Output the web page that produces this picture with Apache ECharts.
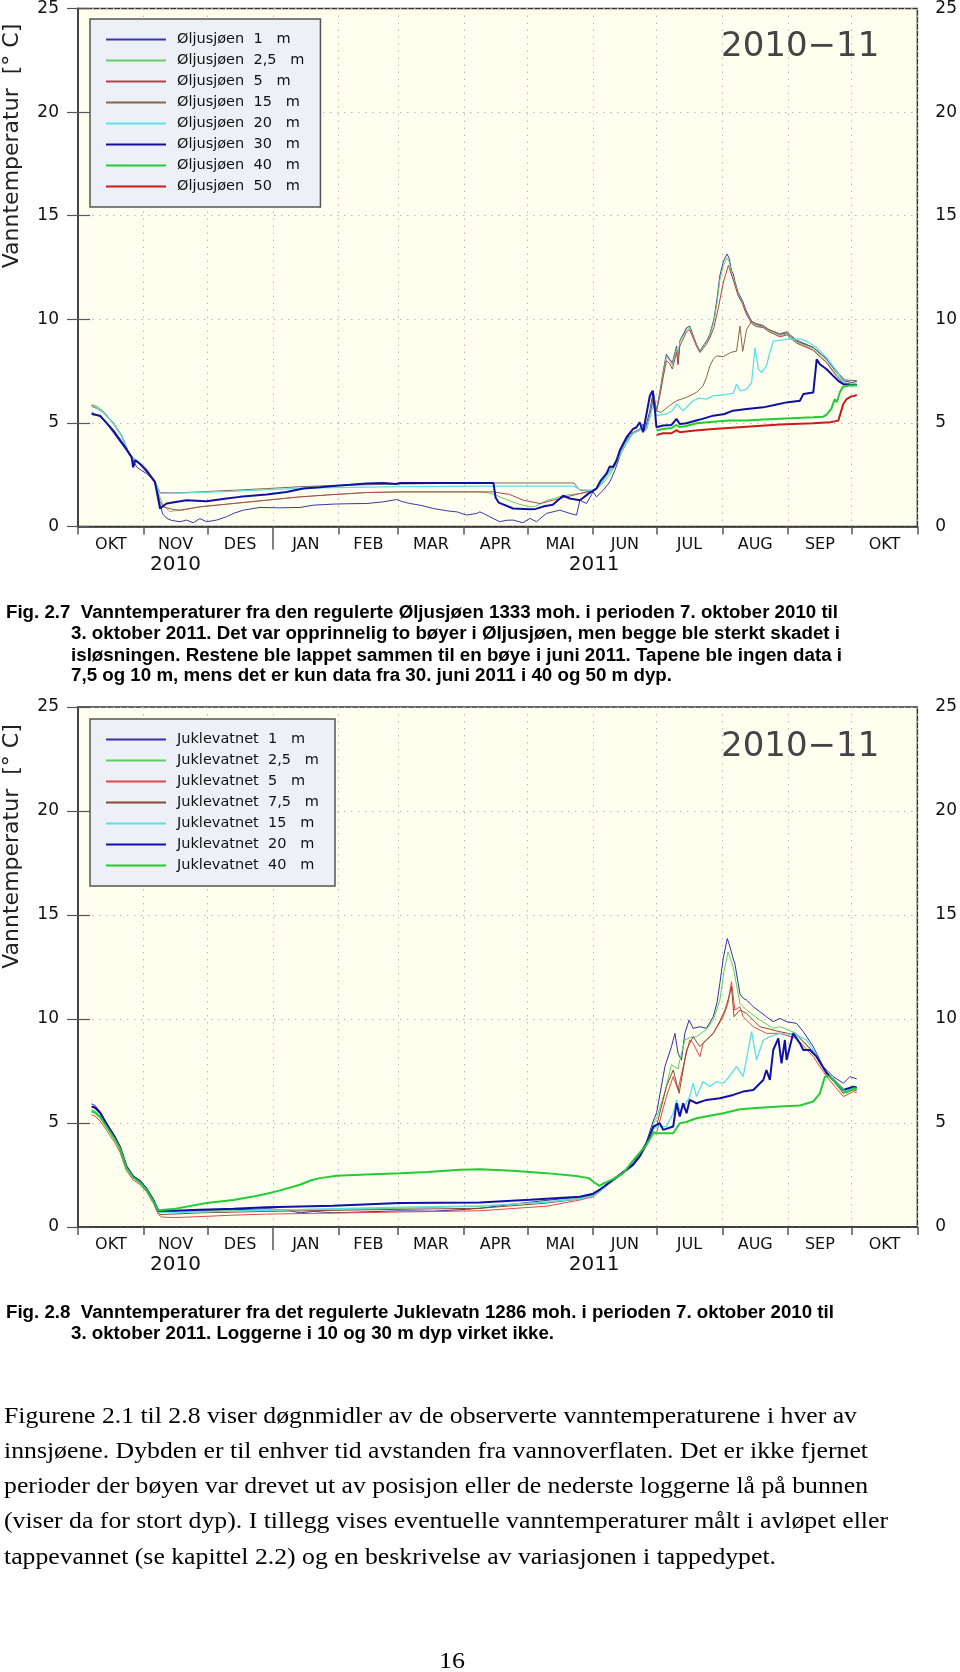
<!DOCTYPE html>
<html><head><meta charset="utf-8">
<script src="https://cdn.jsdelivr.net/npm/echarts@6/dist/echarts.min.js"></script>
<style>
html,body{margin:0;padding:0;background:#fff;}
#page{position:relative;width:960px;height:1672px;overflow:hidden;background:#fff;}
#chart{position:absolute;left:0;top:0;width:960px;height:1672px;}
.ln{position:absolute;white-space:pre;transform-origin:0 50%;color:#000;}
.cap{font-family:"Liberation Sans",Arial,sans-serif;font-weight:bold;font-size:18px;line-height:20px;height:20px;}
.body{font-family:"Liberation Serif","Times New Roman",serif;font-size:24px;line-height:30px;height:30px;}
</style></head>
<body><div id="page"><div id="chart"></div></div>
<script>
// x values are days since 1 Oct 2010
const monthTickDays = [0,31,61,92,123,151,182,212,243,273,304,335,365,396];
const monthLabelDays = [15.5,46,76.5,107.5,137,166.5,197,227.5,258,288.5,319.5,350,380.5];
const monthNames = ['OKT','NOV','DES','JAN','FEB','MAR','APR','MAI','JUN','JUL','AUG','SEP','OKT'];
const yearTickDays = [92];
const yearLabelDays = [46,243.5];
const yearNames = ['2010','2011'];

// Øljusjøen
const olj1 = [[6.4,5.51],[10.4,5.3],[14,4.9],[18.2,4.31],[22.9,3.67],[26,3.2],[27.7,2.87],[30,2.7],[32.4,2.55],[35,2.3],[37.1,2.0],[38.7,1.04],[40,0.6],[41.8,0.4],[44,0.3],[48.1,0.23],[51.2,0.31],[54.4,0.18],[57.5,0.38],[60.7,0.23],[65.4,0.31],[70.1,0.47],[73.3,0.63],[78,0.79],[85.9,0.92],[95,0.9],[104.7,0.92],[111,1.03],[120.4,1.08],[128,1.1],[136.2,1.11],[144,1.19],[150.3,1.3],[153,1.2],[156.6,1.11],[161.3,1.03],[167.6,0.87],[173.9,0.76],[179,0.7],[183.3,0.55],[188.1,0.63],[189.6,0.71],[194.3,0.47],[199,0.23],[202,0.3],[205.3,0.31],[209.9,0.18],[213.2,0.39],[216.3,0.23],[221,0.63],[227.3,0.79],[232.1,0.63],[235.2,0.55],[236.8,1.27],[239.9,1.11],[243,1.67],[244.6,1.43],[247.8,1.75],[250.9,2.15],[253.3,2.71],[257.2,3.83],[260.3,4.47],[265,4.63],[266.6,4.95],[267.4,4.63],[269.8,5.59],[271.4,6.55],[272.9,5.6],[274.5,6.5],[276.1,7.51],[277.6,8.31],[279.2,8.07],[280.4,7.9],[282.4,8.71],[283.1,7.91],[283.9,8.95],[287.1,9.59],[288.6,9.67],[291.8,8.79],[293.4,8.47],[296.5,8.95],[298.1,9.27],[300,10.0],[301.5,11.0],[302.8,12.1],[304.5,12.8],[306.2,13.15],[307.2,12.95],[308.3,12.35],[309.1,12.2],[310,11.8],[311.4,11.3],[313.5,10.9],[315.3,10.4],[317.8,9.9],[320,9.75],[323.3,9.67],[326,9.5],[331.1,9.27],[334.5,9.35],[336,9.2],[339,8.95],[346.9,8.63],[353.2,8.07],[357.9,7.43],[361.5,7.03],[365,6.95],[367.4,7.0]];
const olj25 = [[6.4,5.88],[8.8,5.8],[11.9,5.55],[16.7,5.0],[20.6,4.4],[23.7,3.6],[25.3,3.35],[29.2,3.05],[33.2,2.55],[36.3,2.15],[38.7,1.4],[40.2,1.0],[43.4,0.72],[44.9,0.75],[49.6,0.79],[57.5,0.95],[73.3,1.11],[89,1.27],[104.7,1.43],[120.4,1.54],[136.2,1.64],[151.9,1.67],[189.6,1.67],[194,1.62],[197.4,1.5],[202,1.3],[208,1.08],[213.2,0.95],[216,0.98],[221,1.25],[228.9,1.49],[236.8,1.59],[241.5,1.65],[244.6,1.85],[247.8,2.1],[250.9,2.5],[253.3,2.9],[256,3.5],[258.8,4.0],[261.9,4.5],[265,4.7],[266.6,4.9],[268.2,4.75],[270,5.5],[271.4,6.3],[272.9,5.6],[274.5,6.4],[276.1,7.4],[277.6,8.2],[279.2,8.0],[280.4,7.8],[282.4,8.6],[283.1,7.95],[283.9,8.9],[287.1,9.5],[288.6,9.6],[291.8,8.75],[293.4,8.45],[296.5,8.9],[298.1,9.2],[300,9.9],[301.5,10.8],[302.8,11.9],[304.5,12.6],[306.2,12.95],[307.2,12.8],[308.3,12.2],[309.1,12.05],[310,11.7],[311.4,11.2],[313.5,10.8],[315.3,10.3],[317.8,9.85],[320,9.7],[323.3,9.6],[326,9.45],[331.1,9.2],[334.5,9.3],[336,9.15],[339,8.9],[346.9,8.55],[353.2,7.95],[357.9,7.3],[361.5,6.95],[365,6.85],[367.4,6.9]];
const olj5 = [[6.4,5.8],[8.8,5.7],[11.9,5.5],[16.7,4.95],[20.6,4.35],[23.7,3.55],[25.3,3.3],[29.2,3.0],[33.2,2.5],[36.3,2.1],[38.7,1.2],[40.2,0.95],[42,0.9],[44.9,0.82],[48.1,0.79],[57.5,0.95],[73.3,1.11],[89,1.27],[104.7,1.43],[120.4,1.54],[136.2,1.64],[151.9,1.67],[189.6,1.67],[196,1.67],[199,1.62],[203.5,1.55],[210,1.27],[218,1.11],[224.2,1.27],[230.5,1.43],[236.8,1.59],[243,1.75],[246,1.95],[249,2.4],[252,2.8],[255.6,3.5],[258.8,4.1],[261.9,4.5],[265,4.65],[266.6,4.85],[268.2,4.7],[270,5.45],[271.4,6.2],[272.9,5.55],[274.5,6.3],[276.1,7.2],[277.6,8.0],[279.2,7.85],[280.4,7.6],[282.4,8.4],[283.1,7.8],[283.9,8.7],[287.1,9.4],[288.6,9.5],[291.8,8.7],[293.4,8.4],[296.5,8.8],[298.1,9.1],[300,9.6],[302,10.5],[304.5,11.8],[306.8,12.6],[307.8,12.3],[309.1,11.9],[310,11.6],[311.4,11.15],[313.5,10.75],[315.3,10.25],[317.8,9.8],[320,9.65],[323.3,9.6],[326,9.4],[331.1,9.15],[334.5,9.25],[336,9.1],[339,8.85],[346.9,8.5],[353.2,7.9],[357.9,7.25],[361.5,6.9],[365,6.8],[367.4,6.85]];
const olj15 = [[6.4,5.85],[8.8,5.78],[11.9,5.55],[16.7,5.0],[20.6,4.4],[23.7,3.62],[25.3,3.38],[29.2,3.08],[33.2,2.58],[36.3,2.18],[38.7,1.63],[45,1.62],[57.5,1.67],[73.3,1.75],[89,1.83],[104.7,1.92],[120.4,1.98],[151.9,2.05],[189.6,2.1],[234,2.1],[236.8,1.75],[243,1.7],[246,1.95],[249,2.45],[252,2.85],[255.6,3.5],[258.8,4.15],[261.9,4.55],[265,4.7],[266.6,4.9],[268.2,4.7],[270,5.4],[271.4,6.2],[272.9,5.59],[275,5.5],[279,5.83],[282.4,6.07],[287,6.23],[291.8,6.47],[294.9,6.79],[296.5,7.19],[298.1,7.75],[299.7,8.07],[301.2,8.23],[304.4,8.2],[308,8.4],[310.7,8.47],[312.3,9.67],[313.6,8.45],[315.4,9.5],[317.8,9.9],[320,9.8],[323.3,9.7],[326,9.5],[331.1,9.3],[334.5,9.4],[336,9.25],[339,9.0],[346.9,8.65],[353.2,8.1],[357.9,7.5],[361.5,7.08],[365,7.05],[367.4,7.05]];
const olj20 = [[6.4,5.82],[8.8,5.75],[11.9,5.52],[16.7,4.98],[20.6,4.38],[23.7,3.6],[25.3,3.36],[29.2,3.06],[33.2,2.56],[36.3,2.16],[38.7,1.6],[45,1.6],[57.5,1.65],[73.3,1.7],[89,1.78],[104.7,1.84],[120.4,1.88],[151.9,1.92],[189.6,1.95],[234,1.95],[236.8,1.78],[243,1.75],[246,1.95],[249,2.4],[252,2.8],[255.6,3.45],[258.8,4.1],[261.9,4.5],[265,4.65],[266.6,4.85],[268.2,4.7],[270,5.3],[271.4,5.9],[272.9,5.35],[277.6,5.43],[280.5,5.6],[282.4,5.91],[285.5,5.59],[290.2,6.07],[293,6.2],[296.5,6.15],[299.7,6.31],[305,6.35],[309.1,6.43],[310.7,6.87],[312.3,6.55],[315.4,6.63],[317.8,6.95],[319.4,8.63],[321,7.6],[322.5,7.43],[324.8,7.75],[326.4,8.4],[328,8.95],[334.3,9.03],[340.6,9.06],[343.7,8.95],[348.5,8.63],[353.2,8.15],[357.9,7.51],[361.1,6.95],[364,6.8],[367.4,6.79]];
const olj30 = [[6.4,5.43],[10.4,5.35],[16.7,4.63],[22.2,3.83],[25.3,3.35],[26,2.85],[27,3.2],[29.2,3.03],[32.4,2.7],[36.3,2.15],[38.7,0.87],[41.8,1.11],[51.2,1.27],[60.7,1.22],[70.1,1.35],[76.4,1.43],[89,1.54],[98.4,1.67],[106.3,1.83],[114.1,1.9],[120.4,1.96],[128.3,2.02],[136,2.08],[144,2.1],[150,2.05],[151.9,2.1],[167.6,2.1],[189.6,2.1],[196,2.1],[197,1.4],[198.5,1.15],[205.3,0.87],[213.2,0.83],[216,0.85],[220,0.98],[224,1.05],[228.9,1.49],[232,1.35],[236.8,1.27],[241,1.6],[244.6,1.83],[246.5,2.2],[249.3,2.55],[250.9,2.9],[252.5,2.87],[254.1,3.2],[255.6,3.67],[258.8,4.31],[261.9,4.71],[263.5,4.79],[265,5.03],[266.6,4.55],[268.2,5.43],[269.8,6.31],[271.1,6.55],[272.2,5.59],[272.9,4.79],[276,4.87],[280,4.9],[282.4,5.19],[283.9,4.95],[287,4.98],[293.4,5.16],[299.7,5.35],[305,5.43],[309,5.59],[315.4,5.67],[323.3,5.75],[328,5.85],[334.3,5.99],[340.6,6.07],[342.2,6.39],[346.9,6.47],[348.5,8.07],[350,7.83],[353.2,7.59],[356.3,7.27],[358.7,7.03],[361.1,6.87],[364,6.85],[367.4,6.83]];
const olj40 = [[273,4.63],[276,4.71],[280,4.75],[282.4,4.9],[283.9,4.8],[287,4.85],[291.8,4.98],[299.7,5.05],[307,5.11],[315.4,5.11],[323.3,5.16],[331.1,5.2],[339,5.24],[346.9,5.27],[351.6,5.3],[353.2,5.4],[355.5,5.7],[357,6.15],[358,6.0],[359.5,6.5],[361,6.75],[364,6.8],[367.4,6.82]];
const olj50 = [[273,4.42],[276,4.5],[280,4.5],[282.4,4.65],[283.9,4.55],[290,4.62],[299.7,4.71],[315.4,4.82],[331.1,4.92],[346.9,4.98],[354.8,5.03],[358.7,5.11],[359.5,5.2],[361,5.9],[362.6,6.15],[364.8,6.28],[366,6.3],[367.4,6.35]];

// Juklevatnet
const jk1 = [[6.4,5.92],[8,5.85],[10.4,5.55],[13.5,4.99],[17.4,4.35],[19.8,3.87],[22.9,2.91],[26.1,2.43],[29.2,2.25],[32.4,1.85],[35.5,1.35],[37.9,0.8],[38.7,0.7],[44.9,0.78],[57.5,0.8],[73.3,0.83],[89,0.88],[98.4,0.82],[104.7,0.68],[111,0.75],[120.4,0.68],[136.2,0.73],[151.9,0.78],[167.6,0.76],[183.3,0.85],[189.6,0.9],[205.3,1.1],[221,1.28],[236.8,1.45],[243,1.55],[246.2,1.8],[250.9,2.2],[255.6,2.55],[261.9,3.05],[265,3.55],[268.2,4.1],[271.4,5.1],[273,5.5],[276.9,7.71],[280,8.67],[281.6,9.31],[283.1,8.35],[284.7,8.03],[286.3,9.31],[288.3,9.95],[290.2,9.55],[293.4,9.63],[296.5,9.55],[299.7,10.11],[301.5,10.8],[302.8,11.71],[304.4,12.9],[306.3,13.87],[307.5,13.5],[309.1,12.9],[309.9,12.67],[312.3,11.2],[313.8,11.0],[315.4,10.91],[318.6,10.59],[321.7,10.35],[324.8,10.11],[328,9.87],[331.1,10.03],[334.3,9.87],[339,9.79],[342.2,9.39],[346.9,8.67],[351.6,7.71],[356.3,7.23],[361.1,6.91],[364.2,7.23],[367.4,7.12]];
const jk25 = [[6.4,5.64],[8,5.58],[10.4,5.35],[13.5,4.85],[17.4,4.25],[19.8,3.8],[22.9,2.85],[26.1,2.38],[29.2,2.15],[32.4,1.78],[35.5,1.25],[37.9,0.75],[38.7,0.68],[44.9,0.72],[57.5,0.75],[89,0.82],[120.4,0.86],[151.9,0.9],[189.6,1.0],[221,1.2],[236.8,1.4],[243,1.5],[246.2,1.75],[250.9,2.15],[255.6,2.5],[261.9,3.0],[265,3.45],[268.2,4.0],[271.4,4.95],[273,5.25],[276.9,6.5],[280,7.8],[283.1,7.6],[283.9,8.0],[286.3,9.0],[288.6,9.1],[291.8,9.15],[296.5,9.5],[299.7,9.95],[302.8,10.9],[304.8,12.3],[306.7,13.23],[307.8,12.9],[309.1,12.5],[312.3,10.75],[315.4,10.43],[321.7,9.95],[328,9.55],[331.1,9.63],[339,9.31],[346.9,8.35],[353.2,7.39],[361.1,6.43],[365.8,6.75],[367.4,6.7]];
const jk5 = [[6.4,5.39],[8,5.33],[10.4,5.1],[13.5,4.65],[17.4,4.05],[19.8,3.6],[22.9,2.7],[26.1,2.25],[29.2,2.05],[32.4,1.68],[35.5,1.15],[37.9,0.6],[39.5,0.48],[44.9,0.45],[57.5,0.5],[73.3,0.57],[89,0.62],[120.4,0.67],[151.9,0.72],[189.6,0.78],[221,1.0],[236.8,1.3],[243,1.45],[246.2,1.7],[250.9,2.1],[255.6,2.45],[261.9,2.95],[265,3.35],[268.2,3.9],[271.4,4.6],[272.9,4.51],[277.6,6.27],[280.8,7.23],[283.1,6.59],[285.5,7.71],[288.6,8.99],[290.2,8.83],[293.4,8.19],[294.9,8.83],[299.7,9.31],[304.4,10.11],[306.5,10.7],[308.3,11.79],[309.9,10.43],[312.3,10.59],[313.8,10.11],[318.6,9.63],[324.8,9.31],[331.1,9.31],[339,9.07],[346.9,8.19],[353.2,7.23],[361.1,6.27],[365.8,6.51],[367.4,6.45]];
const jk75 = [[6.4,5.76],[8,5.7],[10.4,5.45],[13.5,4.93],[17.4,4.3],[19.8,3.83],[22.9,2.88],[26.1,2.4],[29.2,2.18],[32.4,1.8],[35.5,1.28],[37.9,0.7],[38.7,0.6],[44.9,0.62],[57.5,0.68],[89,0.75],[120.4,0.8],[151.9,0.85],[189.6,0.9],[221,1.15],[236.8,1.35],[243,1.5],[246.2,1.75],[250.9,2.15],[255.6,2.5],[261.9,3.0],[265,3.4],[268.2,3.95],[271.4,4.75],[272.9,4.83],[277.6,6.75],[280.8,7.55],[283.6,6.43],[287.1,8.51],[290.2,9.15],[293.4,8.67],[296.5,9.0],[299.7,9.31],[302.8,9.9],[305.2,10.43],[307.5,11.2],[308.3,11.55],[309.5,10.11],[312.3,10.43],[315.4,10.27],[321.7,9.63],[331.1,9.39],[339,9.23],[346.9,8.43],[353.2,7.47],[361.1,6.43],[365.8,6.59],[367.4,6.55]];
const jk15 = [[6.4,5.6],[8,5.55],[10.4,5.3],[13.5,4.83],[17.4,4.22],[19.8,3.77],[22.9,2.83],[26.1,2.36],[29.2,2.13],[32.4,1.76],[35.5,1.22],[37.9,0.72],[38.7,0.65],[44.9,0.7],[57.5,0.73],[89,0.8],[120.4,0.88],[151.9,0.95],[189.6,1.02],[221,1.2],[236.8,1.35],[243,1.5],[246.2,1.72],[250.9,2.12],[255.6,2.48],[261.9,2.98],[265,3.38],[268.2,3.95],[271.4,4.7],[272.9,4.83],[277.6,4.83],[280.8,5.47],[282.4,6.11],[283.9,5.63],[286,5.8],[288.6,6.27],[290.2,6.91],[291.8,6.27],[294.9,6.99],[298.1,6.75],[301.2,6.99],[304.4,6.91],[307,7.2],[310.7,7.71],[313.8,7.23],[317.8,9.39],[320.1,8.03],[323.3,8.99],[326.4,9.15],[331.1,9.31],[339,9.23],[343.7,8.99],[346.9,8.51],[353.2,7.39],[361.1,6.51],[365.8,6.67],[367.4,6.6]];
const jk20 = [[6.4,5.8],[8,5.75],[10.4,5.5],[13.5,4.95],[17.4,4.32],[19.8,3.85],[22.9,2.9],[26.1,2.42],[29.2,2.2],[32.4,1.82],[35.5,1.3],[37.9,0.78],[38.7,0.75],[44.9,0.78],[57.5,0.83],[73.3,0.88],[89,0.95],[120.4,1.02],[151.9,1.15],[189.6,1.18],[213.2,1.31],[236.8,1.45],[243,1.6],[246.2,1.8],[250.9,2.15],[255.6,2.5],[261.9,3.0],[265,3.4],[268.2,4.0],[271.4,4.83],[274.5,4.99],[276.1,4.67],[280.8,4.83],[282.4,5.95],[283.9,5.31],[285.5,5.95],[287.1,5.47],[288.6,6.11],[291.8,5.95],[296.5,6.11],[302.8,6.19],[309.1,6.35],[313.8,6.51],[318.6,6.59],[323.3,7.07],[324.8,7.55],[326.4,7.07],[328,8.51],[330.4,9.07],[331.9,7.87],[333.5,8.99],[334.3,8.03],[337.4,9.31],[339,9.07],[340.6,8.83],[342.2,8.51],[345.3,8.51],[348.5,8.19],[353.2,7.39],[361.1,6.59],[365.8,6.75],[367.4,6.7]];
const jk40 = [[6.4,5.55],[8,5.5],[10.4,5.28],[13.5,4.82],[17.4,4.22],[19.8,3.78],[22.9,2.85],[26.1,2.38],[29.2,2.15],[32.4,1.78],[35.5,1.25],[37.9,0.8],[38.7,0.75],[44.9,0.86],[60.7,1.15],[73.3,1.3],[82.7,1.47],[89,1.6],[95,1.75],[104.7,2.03],[110,2.25],[114.1,2.35],[122,2.46],[136,2.52],[151.9,2.59],[165,2.65],[180.2,2.75],[189.6,2.78],[205,2.7],[221,2.59],[235,2.45],[241,2.35],[243.5,2.15],[246,1.98],[248,2.1],[252.5,2.3],[257.2,2.59],[263.5,3.39],[268.2,3.95],[271.4,4.51],[280.8,4.51],[283.9,4.99],[287,5.05],[291.8,5.23],[298,5.35],[304.4,5.47],[312.3,5.66],[320,5.72],[331.1,5.79],[340.6,5.84],[346.9,6.03],[350,6.43],[352.4,7.23],[354.8,7.23],[359.5,6.75],[362.6,6.46],[365.8,6.67],[367.4,6.65]];

const oljNames = ['Øljusjøen  1   m','Øljusjøen  2,5   m','Øljusjøen  5   m','Øljusjøen  15   m','Øljusjøen  20   m','Øljusjøen  30   m','Øljusjøen  40   m','Øljusjøen  50   m'];
const jkNames = ['Juklevatnet  1   m','Juklevatnet  2,5   m','Juklevatnet  5   m','Juklevatnet  7,5   m','Juklevatnet  15   m','Juklevatnet  20   m','Juklevatnet  40   m'];
const oljData = [olj1,olj25,olj5,olj15,olj20,olj30,olj40,olj50];
const jkData = [jk1,jk25,jk5,jk75,jk15,jk20,jk40];

// styles
const oljColors = ['#3838a8','#66d066','#b8404c','#8b6446','#5ae0e8','#1010a0','#22cc33','#cc1a1a'];
const oljWidths = [1,1,1,1,1.3,2,2,2];
const jkColors = ['#3030a8','#5cd05c','#e04848','#8b4a2c','#5ae0e8','#1010a8','#22cc33'];
const jkWidths = [1,1,1,1,1.3,2,2];

const FONT = 'DejaVu Sans';
const gridTops = [6.5, 707];

function xAxes(g){
  return [{
    type:'value', gridIndex:g, min:0, max:396, position:'bottom',
    axisLine:{show:true, lineStyle:{color:'#333', width:1.5}},
    axisTick:{show:true, customValues:monthTickDays, length:8, lineStyle:{color:'#555', width:1.5}},
    axisLabel:{show:true, customValues:monthLabelDays, margin:10, fontSize:16, fontFamily:FONT, color:'#111',
      formatter:v=>{const i=monthLabelDays.indexOf(v); return i>=0?monthNames[i]:'';}},
    splitLine:{show:true, lineStyle:{color:'#b8b8b8', width:1, type:[1.5,5.5]}}
  },{
    type:'value', gridIndex:g, min:0, max:396, position:'bottom',
    axisLine:{show:false},
    axisTick:{show:true, customValues:yearTickDays, length:23, lineStyle:{color:'#555', width:1.5}},
    axisLabel:{show:true, customValues:yearLabelDays, margin:28, fontSize:20, fontFamily:FONT, color:'#111',
      formatter:v=>{const i=yearLabelDays.indexOf(v); return i>=0?yearNames[i]:'';}},
    splitLine:{show:false}
  }];
}
function yAxes(g){
  return [{
    type:'value', gridIndex:g, min:0, max:25, interval:5, position:'left',
    axisLine:{show:true, lineStyle:{color:'#777', width:2}},
    axisTick:{show:true, length:11, lineStyle:{color:'#555', width:1.2}},
    axisLabel:{margin:19, fontSize:17, fontFamily:FONT, color:'#111'},
    splitLine:{show:true, lineStyle:{color:'#b8b8b8', width:1, type:[1.5,5.5]}}
  },{
    type:'value', gridIndex:g, min:0, max:25, interval:5, position:'right',
    axisLine:{show:true, lineStyle:{color:'#333', width:1.5}},
    axisTick:{show:true, length:12, lineStyle:{color:'#555', width:1.2}},
    axisLabel:{margin:18, fontSize:17, fontFamily:FONT, color:'#111'},
    splitLine:{show:false}
  }];
}
function buildSeries(names, data, colors, widths, xi, yi){
  return names.map((n,i)=>({
    name:n, type:'line', xAxisIndex:xi, yAxisIndex:yi, data:data[i],
    showSymbol:false, symbol:'none', smooth:false, animation:false,
    lineStyle:{color:colors[i], width:widths[i]}, itemStyle:{color:colors[i]}
  }));
}
function legend(names, top){
  return {
    data:names, orient:'vertical', left:90, top:top, padding:[13,16,13,15],
    itemWidth:60, itemHeight:14, itemGap:6, selectedMode:false,
    itemStyle:{opacity:0, borderWidth:0},
    backgroundColor:'#eef0f8', borderColor:'#555', borderWidth:1.5, borderRadius:0,
    textStyle:{fontFamily:FONT, fontSize:14.5, color:'#111', padding:[0,0,0,6]}
  };
}

const chart = echarts.init(document.getElementById('chart'), null, {renderer:'canvas', width:960, height:1672});
chart.setOption({
  animation:false,
  backgroundColor:'transparent',
  grid:[
    {left:78, top:gridTops[0], width:840, height:520, show:true, backgroundColor:'#fffff0', borderColor:'#333', borderWidth:1.5, containLabel:false},
    {left:78, top:gridTops[1], width:840, height:520, show:true, backgroundColor:'#fffff0', borderColor:'#333', borderWidth:1.5, containLabel:false}
  ],
  xAxis:[...xAxes(0), ...xAxes(1)],
  yAxis:[...yAxes(0), ...yAxes(1)],
  title:[
    {text:'2010\u221211', left:721, top:30, padding:0, textStyle:{fontFamily:FONT, fontSize:34, fontWeight:'normal', color:'#444'}},
    {text:'2010\u221211', left:721, top:730.5, padding:0, textStyle:{fontFamily:FONT, fontSize:34, fontWeight:'normal', color:'#444'}}
  ],
  legend:[legend(oljNames, 19), legend(jkNames, 719)],
  graphic:[
    {type:'text', x:12.5, y:146, rotation:Math.PI/2, style:{text:'Vanntemperatur  [° C]', fontSize:22, fontFamily:FONT, fill:'#222', align:'center', verticalAlign:'middle', textAlign:'center', textVerticalAlign:'middle'}},
    {type:'text', x:12.5, y:846.5, rotation:Math.PI/2, style:{text:'Vanntemperatur  [° C]', fontSize:22, fontFamily:FONT, fill:'#222', align:'center', verticalAlign:'middle', textAlign:'center', textVerticalAlign:'middle'}}
  ],
  series:[
    ...buildSeries(oljNames, oljData, oljColors, oljWidths, 0, 0),
    ...buildSeries(jkNames, jkData, jkColors, jkWidths, 2, 2)
  ]
});

// page text (caption and body), each line fitted to the width it has in the page
const textLines = [
  {cls:'cap', t:'Fig. 2.7  Vanntemperaturer fra den regulerte Øljusjøen 1333 moh. i perioden 7. oktober 2010 til', l:6, r:838, cy:612},
  {cls:'cap', t:'3. oktober 2011. Det var opprinnelig to bøyer i Øljusjøen, men begge ble sterkt skadet i', l:71, r:840, cy:633},
  {cls:'cap', t:'isløsningen. Restene ble lappet sammen til en bøye i juni 2011. Tapene ble ingen data i', l:71, r:842, cy:654.5},
  {cls:'cap', t:'7,5 og 10 m, mens det er kun data fra 30. juni 2011 i 40 og 50 m dyp.', l:71, r:672, cy:675},
  {cls:'cap', t:'Fig. 2.8  Vanntemperaturer fra det regulerte Juklevatn 1286 moh. i perioden 7. oktober 2010 til', l:6, r:834, cy:1311.5},
  {cls:'cap', t:'3. oktober 2011. Loggerne i 10 og 30 m dyp virket ikke.', l:71, r:554, cy:1333},
  {cls:'body', t:'Figurene 2.1 til 2.8 viser døgnmidler av de observerte vanntemperaturene i hver av', l:4, r:857, cy:1415},
  {cls:'body', t:'innsjøene. Dybden er til enhver tid avstanden fra vannoverflaten. Det er ikke fjernet', l:4, r:868, cy:1450},
  {cls:'body', t:'perioder der bøyen var drevet ut av posisjon eller de nederste loggerne lå på bunnen', l:4, r:868, cy:1485},
  {cls:'body', t:'(viser da for stort dyp). I tillegg vises eventuelle vanntemperaturer målt i avløpet eller', l:4, r:888, cy:1520},
  {cls:'body', t:'tappevannet (se kapittel 2.2) og en beskrivelse av variasjonen i tappedypet.', l:4, r:776, cy:1556},
  {cls:'body', t:'16', l:439, r:465, cy:1660}
];
const page = document.getElementById('page');
textLines.forEach(o=>{
  const d = document.createElement('div');
  d.className = 'ln ' + o.cls;
  d.textContent = o.t;
  page.appendChild(d);
  const h = o.cls==='cap'?20:30;
  d.style.left = o.l + 'px';
  d.style.top = (o.cy - h/2) + 'px';
  const w = d.getBoundingClientRect().width;
  const s = (o.r - o.l) / w;
  d.style.transform = 'scaleX(' + s.toFixed(4) + ')';
});
</script>
</body></html>
